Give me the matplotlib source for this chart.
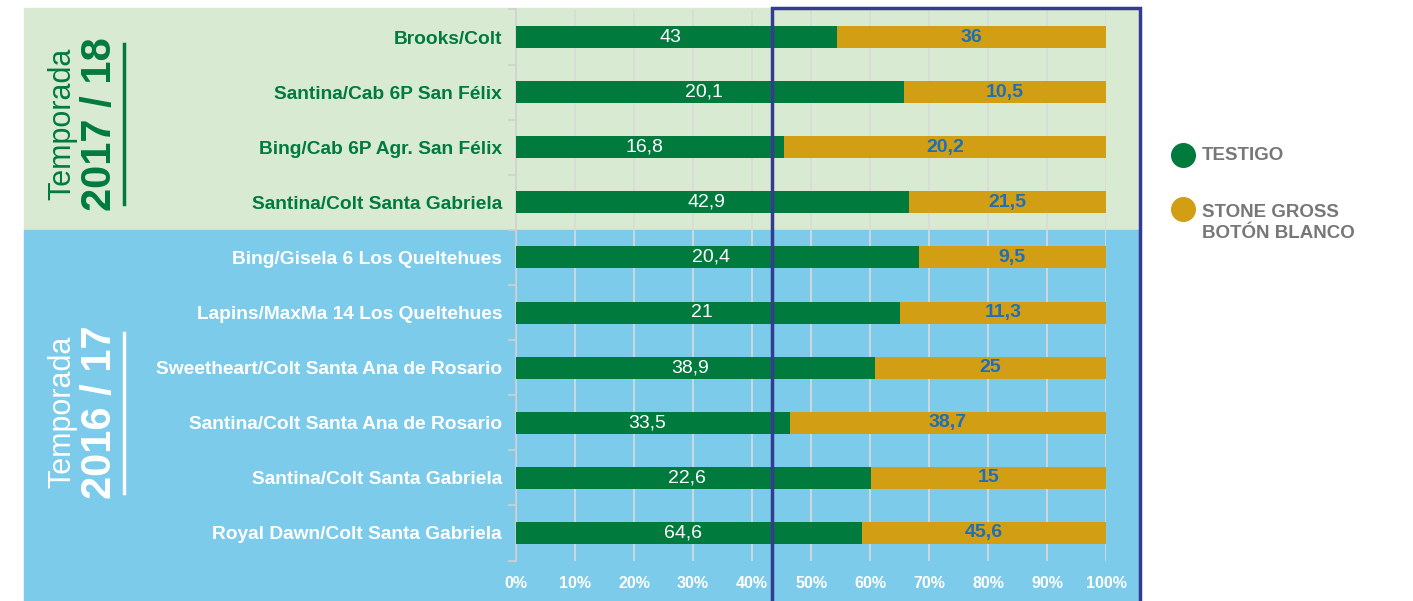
import matplotlib.pyplot as plt
from matplotlib.patches import Rectangle
from matplotlib.lines import Line2D

plt.rcParams['font.family'] = ['Liberation Sans', 'DejaVu Sans']

labels = ['Brooks/Colt', 'Santina/Cab 6P San Félix', 'Bing/Cab 6P Agr. San Félix',
          'Santina/Colt Santa Gabriela', 'Bing/Gisela 6 Los Queltehues',
          'Lapins/MaxMa 14 Los Queltehues', 'Sweetheart/Colt Santa Ana de Rosario',
          'Santina/Colt Santa Ana de Rosario', 'Santina/Colt Santa Gabriela',
          'Royal Dawn/Colt Santa Gabriela']
testigo = [43, 20.1, 16.8, 42.9, 20.4, 21, 38.9, 33.5, 22.6, 64.6]
stone = [36, 10.5, 20.2, 21.5, 9.5, 11.3, 25, 38.7, 15, 45.6]
season = ['2017/18'] * 4 + ['2016/17'] * 6
xticks = [0, 10, 20, 30, 40, 50, 60, 70, 80, 90, 100]

GREEN = '#007a3d'
GOLD = '#d19e14'
BG_GREEN = '#d9ead3'
BG_BLUE = '#7ccbea'
NAVY = '#343b92'

W, H = 1413, 601
fig = plt.figure(figsize=(W / 100, H / 100), dpi=100)

def fx(px):
    return px / W

def fy(py):
    return 1 - py / H

# background panels
fig.add_artist(Rectangle((fx(24), fy(230)), fx(1140) - fx(24), fy(8) - fy(230),
                         transform=fig.transFigure, color=BG_GREEN, zorder=0))
fig.add_artist(Rectangle((fx(24), 0), fx(1140) - fx(24), fy(230),
                         transform=fig.transFigure, color=BG_BLUE, zorder=0))

ax = fig.add_axes([fx(516), fy(560.5), fx(1106) - fx(516), fy(9.5) - fy(560.5)])
ax.set_facecolor('none')

pct_t = [t / (t + s) * 100 for t, s in zip(testigo, stone)]
pct_s = [100 - p for p in pct_t]
y = list(range(len(labels)))

ax.barh(y, pct_t, height=0.4, color=GREEN, zorder=3)
ax.barh(y, pct_s, left=pct_t, height=0.4, color=GOLD, zorder=3)

for i in y:
    ax.text(pct_t[i] / 2 - 1, i, f'{testigo[i]:g}'.replace('.', ','), ha='center', va='center',
            color='white', fontsize=14, zorder=4)
    ax.text(pct_t[i] + pct_s[i] / 2, i, f'{stone[i]:g}'.replace('.', ','), ha='center',
            va='center', color='#1f6fb8', fontsize=14, fontweight='bold', zorder=4)

ax.set_xlim(0, 100)
ax.set_ylim(len(labels) - 0.5, -0.5)
ax.set_xticks(xticks)
ax.set_xticklabels([f'{v}%' for v in xticks], color='white', fontweight='bold', fontsize=11.5)
ax.tick_params(axis='x', length=0, pad=11)
ax.xaxis.grid(True, color='#dadada', lw=1.2, zorder=1)
ax.set_axisbelow(True)

ax.set_yticks(y)
ax.set_yticklabels(labels, fontsize=13.8, fontweight='bold')
for lab, s in zip(ax.get_yticklabels(), season):
    lab.set_color(GREEN if s == '2017/18' else 'white')
ax.tick_params(axis='y', length=0, pad=10)
ax.set_yticks([i - 0.5 for i in range(len(labels) + 1)], minor=True)
ax.tick_params(axis='y', which='minor', length=6, color='#d0d0d0', width=1.2)

for sp in ['top', 'right', 'bottom']:
    ax.spines[sp].set_visible(False)
ax.spines['left'].set_color('#d0d0d0')
ax.spines['left'].set_linewidth(1.2)

# season labels
fig.text(fx(62), fy(124), 'Temporada', rotation=90, ha='center', va='center',
         fontsize=22, color=GREEN)
fig.text(fx(100), fy(124), '2017 / 18', rotation=90, ha='center', va='center',
         fontsize=30, color=GREEN, fontweight='bold')
fig.add_artist(Line2D([fx(124), fx(124)], [fy(44), fy(204)], transform=fig.transFigure,
                      color=GREEN, lw=2.5))
fig.text(fx(62), fy(412), 'Temporada', rotation=90, ha='center', va='center',
         fontsize=22, color='white')
fig.text(fx(100), fy(412), '2016 / 17', rotation=90, ha='center', va='center',
         fontsize=30, color='white', fontweight='bold')
fig.add_artist(Line2D([fx(124), fx(124)], [fy(333), fy(493)], transform=fig.transFigure,
                      color='white', lw=2.5))

# highlight box
fig.add_artist(Rectangle((fx(772), fy(620)), fx(1140) - fx(772), fy(8) - fy(620),
                         transform=fig.transFigure, fill=False, edgecolor=NAVY, lw=2.5,
                         zorder=10))

# legend
fig.add_artist(Line2D([fx(1183)], [fy(155)], marker='o', markersize=17, color=GREEN,
                      transform=fig.transFigure))
fig.text(fx(1202), fy(156), 'TESTIGO', ha='left', va='center', fontsize=13.5,
         color='#777777', fontweight='bold')
fig.add_artist(Line2D([fx(1183)], [fy(209)], marker='o', markersize=17, color=GOLD,
                      transform=fig.transFigure))
fig.text(fx(1202), fy(223), 'STONE GROSS\nBOTÓN BLANCO', ha='left', va='center',
         fontsize=13.5, color='#777777', fontweight='bold', linespacing=1.3)

fig.savefig('out.png', dpi=100)
